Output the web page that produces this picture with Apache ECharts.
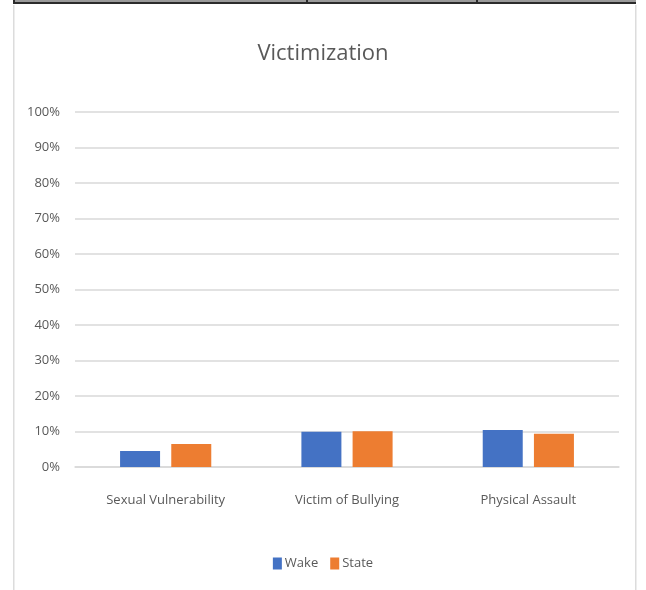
<!DOCTYPE html>
<html>
<head>
<meta charset="utf-8">
<style>
  html, body { margin: 0; padding: 0; background: #ffffff; }
  #chart { width: 646px; height: 590px; }
</style>
<script src="https://cdn.jsdelivr.net/npm/echarts@6/dist/echarts.min.js"></script>
</head>
<body>
<div id="chart"></div>
<script>
const categories = ['Sexual Vulnerability', 'Victim of Bullying', 'Physical Assault'];
const wakeValues = [4.5, 9.9, 10.4];
const stateValues = [6.5, 10.1, 9.4];
const seriesNames = ['Wake', 'State'];
const yTicks = [0, 10, 20, 30, 40, 50, 60, 70, 80, 90, 100];

const chart = echarts.init(document.getElementById('chart'), null, { renderer: 'canvas' });
const textColor = '#595959';
const font = '"Open Sans", "Noto Sans", sans-serif';

chart.setOption({
  animation: false,
  backgroundColor: '#ffffff',
  title: {
    text: 'Victimization',
    left: 'center',
    top: 38,
    textStyle: { color: textColor, fontSize: 22, fontWeight: 'normal', fontFamily: font }
  },
  legend: {
    data: seriesNames,
    bottom: 15,
    left: 'center',
    itemWidth: 9,
    itemHeight: 12,
    itemGap: 12,
    icon: 'rect',
    textStyle: { color: textColor, fontSize: 13, fontFamily: font, padding: [0, 0, 0, -2] }
  },
  grid: { left: 75, right: 27, top: 112, bottom: 123, containLabel: false },
  xAxis: {
    type: 'category',
    data: categories,
    axisLine: { show: true, lineStyle: { color: '#d9d9d9', width: 1.5 } },
    axisTick: { show: false },
    axisLabel: { color: textColor, fontSize: 13, fontFamily: font, margin: 27 }
  },
  yAxis: {
    type: 'value',
    min: yTicks[0],
    max: yTicks[yTicks.length - 1],
    interval: 10,
    axisLine: { show: false },
    axisTick: { show: false },
    splitLine: { lineStyle: { color: '#d9d9d9', width: 1.5 } },
    axisLabel: { color: textColor, fontSize: 13, fontFamily: font, margin: 15, formatter: v => v + '%' }
  },
  series: [
    {
      name: seriesNames[0], type: 'bar', data: wakeValues,
      barWidth: 40, barGap: '28%',
      itemStyle: { color: '#4472C4' }
    },
    {
      name: seriesNames[1], type: 'bar', data: stateValues,
      barWidth: 40, barGap: '28%',
      itemStyle: { color: '#ED7D31' }
    }
  ],
  graphic: [
    { type: 'rect', shape: { x: 14, y: 0, width: 622, height: 2 }, style: { fill: '#9a9a9a' }, silent: true },
    { type: 'rect', shape: { x: 14, y: 2, width: 622, height: 2 }, style: { fill: '#2b2b2b' }, silent: true },
    { type: 'rect', shape: { x: 306, y: 0, width: 2, height: 3 }, style: { fill: '#2b2b2b' }, silent: true },
    { type: 'rect', shape: { x: 476, y: 0, width: 2, height: 3 }, style: { fill: '#2b2b2b' }, silent: true },
    { type: 'rect', shape: { x: 13, y: 0, width: 2, height: 4 }, style: { fill: '#2b2b2b' }, silent: true },
    { type: 'rect', shape: { x: 13, y: 5, width: 1.5, height: 585 }, style: { fill: '#dcdcdc' }, silent: true },
    { type: 'rect', shape: { x: 635, y: 5, width: 1.5, height: 585 }, style: { fill: '#dcdcdc' }, silent: true }
  ]
});
</script>
</body>
</html>
